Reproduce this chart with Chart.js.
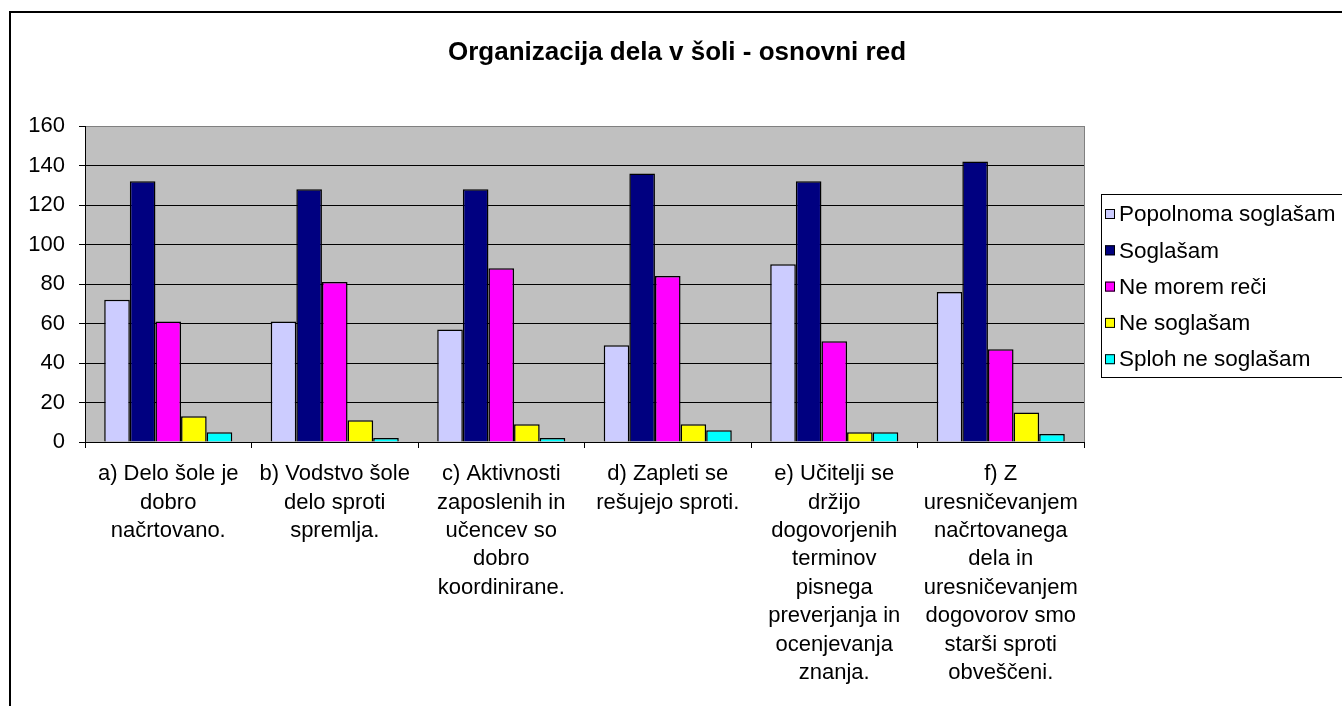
<!DOCTYPE html>
<html>
<head>
<meta charset="utf-8">
<script src="https://cdn.jsdelivr.net/npm/chart.js@4.4.1/dist/chart.umd.min.js"></script>
<style>
  html, body { margin: 0; padding: 0; background: #fff; }
  #wrap { width: 1342px; height: 706px; position: relative; }
</style>
</head>
<body>
<div id="wrap"><canvas id="chart"></canvas></div>
<script>
// Chart data
const chartTitle = 'Organizacija dela v šoli - osnovni red';

const categories = [
    ['a) Delo šole je', 'dobro', 'načrtovano.'],
    ['b) Vodstvo šole', 'delo sproti', 'spremlja.'],
    ['c) Aktivnosti', 'zaposlenih in', 'učencev so', 'dobro', 'koordinirane.'],
    ['d) Zapleti se', 'rešujejo sproti.'],
    ['e) Učitelji se', 'držijo', 'dogovorjenih', 'terminov', 'pisnega', 'preverjanja in', 'ocenjevanja', 'znanja.'],
    ['f) Z', 'uresničevanjem', 'načrtovanega', 'dela in', 'uresničevanjem', 'dogovorov smo', 'starši sproti', 'obveščeni.']
];

const seriesNames = ['Popolnoma soglašam', 'Soglašam', 'Ne morem reči', 'Ne soglašam', 'Sploh ne soglašam'];
const popolnomaSoglasam = [72, 61, 57, 49, 90, 76];
const soglasam = [132, 128, 128, 136, 132, 142];
const neMoremReci = [61, 81, 88, 84, 51, 47];
const neSoglasam = [13, 11, 9, 9, 5, 15];
const splohNeSoglasam = [5, 2, 2, 6, 5, 4];

const yTicks = [0, 20, 40, 60, 80, 100, 120, 140, 160];

const seriesColors = ['#CCCCFF', '#000080', '#FF00FF', '#FFFF00', '#00FFFF'];
const seriesValues = [popolnomaSoglasam, soglasam, neMoremReci, neSoglasam, splohNeSoglasam];

const FONT = 'Liberation Sans, Arial, sans-serif';

// Plot area box (Excel-style layout)
const PLOT_LEFT = 85;
const PLOT_RIGHT = 1084;
const PLOT_TOP = 126;
const PLOT_BOTTOM = 442;

// Draw gray plot background, title, outer frame and legend
const excelStyle = {
    id: 'excelStyle',
    beforeDraw(chart) {
        const { ctx, chartArea } = chart;
        ctx.save();
        ctx.fillStyle = '#C0C0C0';
        ctx.fillRect(chartArea.left, chartArea.top, chartArea.right - chartArea.left, chartArea.bottom - chartArea.top);
        ctx.restore();
    },
    afterDraw(chart) {
        const { ctx, chartArea } = chart;
        ctx.save();

        // gray right border of plot area
        ctx.strokeStyle = '#808080';
        ctx.lineWidth = 1;
        ctx.beginPath();
        ctx.moveTo(Math.round(chartArea.right) + 0.5, chartArea.top);
        ctx.lineTo(Math.round(chartArea.right) + 0.5, chartArea.bottom);
        ctx.stroke();

        // outer chart frame (cut off at right and bottom)
        ctx.strokeStyle = '#000';
        ctx.lineWidth = 2;
        ctx.beginPath();
        ctx.moveTo(10, 720);
        ctx.lineTo(10, 12);
        ctx.lineTo(1360, 12);
        ctx.stroke();

        // title
        ctx.fillStyle = '#000';
        ctx.font = 'bold 26px ' + FONT;
        ctx.textAlign = 'center';
        ctx.textBaseline = 'middle';
        ctx.fillText(chartTitle, 677, 53);

        // legend
        ctx.lineWidth = 1;
        ctx.strokeStyle = '#000';
        ctx.strokeRect(1101.5, 194.5, 300, 183);
        ctx.font = '22.5px ' + FONT;
        ctx.textAlign = 'left';
        chart.data.datasets.forEach((ds, i) => {
            const cy = 214 + i * 36.3;
            ctx.fillStyle = ds.backgroundColor;
            ctx.fillRect(1105, cy - 5, 10, 10);
            ctx.strokeRect(1105.5, cy - 4.5, 9, 9);
            ctx.fillStyle = '#000';
            ctx.fillText(ds.label, 1119, cy + 1);
        });

        ctx.restore();
    }
};

new Chart(document.getElementById('chart'), {
    type: 'bar',
    plugins: [excelStyle],
    data: {
        labels: categories,
        datasets: seriesNames.map((name, i) => ({
            label: name,
            data: seriesValues[i],
            backgroundColor: seriesColors[i],
            borderColor: '#000',
            borderWidth: 1.5,
            borderSkipped: 'start',
            categoryPercentage: 5 / 6.5,
            barPercentage: 1
        }))
    },
    options: {
        responsive: true,
        maintainAspectRatio: false,
        animation: false,
        devicePixelRatio: 1,
        layout: {
            padding: { left: 0, top: PLOT_TOP, right: 1342 - PLOT_RIGHT, bottom: 0 }
        },
        plugins: {
            legend: { display: false },
            title: { display: false },
            tooltip: { enabled: false }
        },
        scales: {
            x: {
                afterFit(scale) { scale.height = 706 - PLOT_BOTTOM; },
                grid: {
                    offset: true,
                    drawOnChartArea: false,
                    drawTicks: true,
                    tickLength: 6,
                    color: '#000'
                },
                border: { color: '#000', width: 1 },
                ticks: {
                    color: '#000',
                    maxRotation: 0,
                    autoSkip: false,
                    padding: 12,
                    font: { family: FONT, size: 22, lineHeight: 1.29 }
                }
            },
            y: {
                min: 0,
                max: 160,
                afterFit(scale) { scale.width = PLOT_LEFT; },
                afterBuildTicks(scale) { scale.ticks = yTicks.map(v => ({ value: v })); },
                grid: {
                    color: ctx => (ctx.tick && ctx.tick.value === 160 ? '#808080' : '#000'),
                    tickColor: '#000',
                    tickLength: 6,
                    drawTicks: true
                },
                border: { color: '#000', width: 1 },
                ticks: {
                    color: '#000',
                    padding: 14,
                    font: { family: FONT, size: 22 }
                }
            }
        }
    }
});
</script>
</body>
</html>
